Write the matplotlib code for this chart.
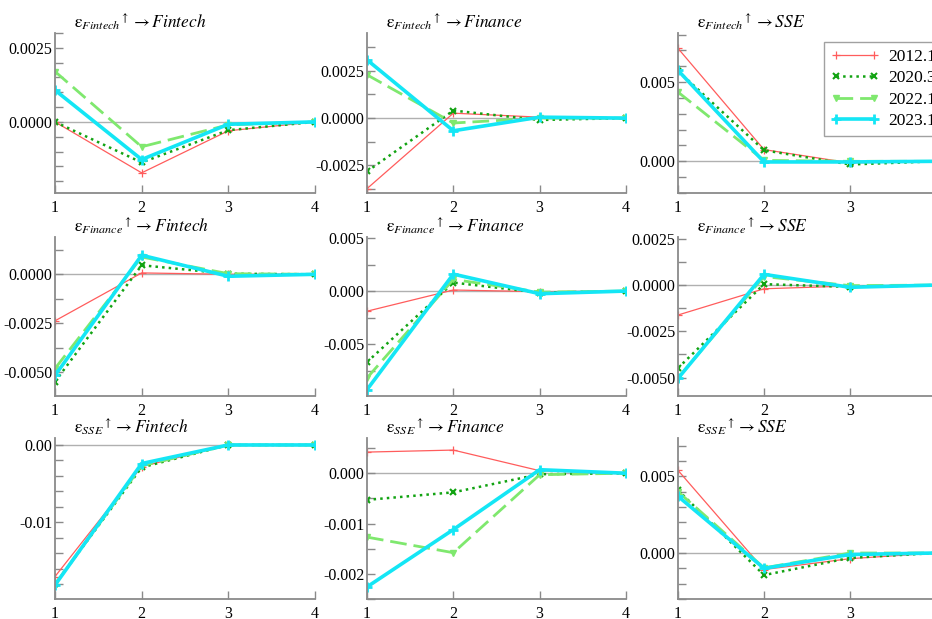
import matplotlib.pyplot as plt
from matplotlib.ticker import MultipleLocator, FormatStrFormatter

plt.rcParams['font.family'] = ['Liberation Serif', 'DejaVu Serif']
plt.rcParams['mathtext.fontset'] = 'stix'
plt.rcParams['axes.unicode_minus'] = False

horizons = [1, 2, 3, 4]
periods = ['2012.11', '2020.3', '2022.1', '2023.10']
shocks = ['Fintech', 'Finance', 'SSE']
responses = ['Fintech', 'Finance', 'SSE']

# impulse responses, one list per period (2012.11, 2020.3, 2022.1, 2023.10)
fintech_fintech = [[0.0, -0.00172, -0.00030, 0.0],
                   [0.0, -0.00137, -0.00028, 0.0],
                   [0.00170, -0.00084, -0.00010, 0.0],
                   [0.00107, -0.00127, -0.00008, 0.0]]
fintech_finance = [[-0.00373, 0.00026, 0.00005, 0.0],
                   [-0.00282, 0.00040, -0.00010, 0.0],
                   [0.00229, -0.00026, 0.0, 0.0],
                   [0.00308, -0.00067, 0.00005, 0.0]]
fintech_sse = [[0.00713, 0.00074, -0.00010, 0.0],
               [0.00570, 0.00070, -0.00020, 0.0],
               [0.00437, 0.00006, 0.0, 0.0],
               [0.00574, -0.00004, -0.00004, 0.0]]
finance_fintech = [[-0.00237, 0.00007, 0.0, 0.0],
                   [-0.00547, 0.00046, 0.00003, 0.0],
                   [-0.00480, 0.00088, 0.00003, 0.0],
                   [-0.00515, 0.00097, -0.00010, 0.0]]
finance_finance = [[-0.00190, 0.00010, -0.00006, 0.0],
                   [-0.00670, 0.00080, -0.00015, 0.0],
                   [-0.00820, 0.00110, -0.00010, 0.0],
                   [-0.00930, 0.00160, -0.00025, 0.0]]
finance_sse = [[-0.00162, -0.00020, -0.00005, 0.0],
               [-0.00449, 0.00005, -0.00010, 0.0],
               [-0.00502, 0.00046, -0.00003, 0.0],
               [-0.00505, 0.00058, -0.00012, 0.0]]
sse_fintech = [[-0.0170, -0.0028, 0.0, 0.0],
               [-0.0180, -0.0029, 0.0, 0.0],
               [-0.0180, -0.0027, 0.0, 0.0],
               [-0.0181, -0.0024, 0.0, 0.0]]
sse_finance = [[0.00042, 0.00046, 0.00005, 0.0],
               [-0.00053, -0.00038, -0.00002, 0.0],
               [-0.00127, -0.00158, -0.00003, 0.0],
               [-0.00226, -0.00112, 0.00007, 0.0]]
sse_sse = [[0.00539, -0.00108, -0.00037, 0.0],
           [0.00410, -0.00144, -0.00032, 0.0],
           [0.00400, -0.00097, 0.0, 0.0],
           [0.00370, -0.00100, -0.00010, 0.0]]

panels = [[fintech_fintech, fintech_finance, fintech_sse],
          [finance_fintech, finance_finance, finance_sse],
          [sse_fintech, sse_finance, sse_sse]]

# y range, major step, minor step, label format
axis_setup = [[((-0.0024, 0.0030), 0.0025, 0.0005, '%.4f'),
               ((-0.00396, 0.0045), 0.0025, 0.00125, '%.4f'),
               ((-0.0020, 0.0081), 0.005, 0.001, '%.3f')],
              [((-0.0062, 0.0019), 0.0025, 0.00125, '%.4f'),
               ((-0.0099, 0.0051), 0.005, 0.0025, '%.3f'),
               ((-0.0060, 0.0026), 0.0025, 0.00125, '%.4f')],
              [((-0.0199, 0.0009), 0.01, 0.002, '%.2f'),
               ((-0.0025, 0.0007), 0.001, 0.0005, '%.3f'),
               ((-0.0030, 0.0075), 0.005, 0.001, '%.3f')]]

styles = [dict(color='#ff5c5c', ls='-', lw=0.9, marker='+', ms=6, mew=0.9),
          dict(color='#12a312', ls=':', lw=1.8, marker='x', ms=5, mew=1.5),
          dict(color='#7fe86e', ls=(0, (6, 2.5)), lw=2.0, marker='v', ms=5),
          dict(color='#14e6f5', ls='-', lw=2.6, marker='+', ms=7, mew=2)]

W, H = 932, 619
fig = plt.figure(figsize=(W / 100, H / 100), dpi=100)

col_left = [55, 367, 678]
col_width = [260, 259, 258]
row_bottom = [193, 396, 599]
row_height = [160, 159, 161]

gray = '#8a8a8a'
handles = []
for r in range(3):
    for c in range(3):
        ax = fig.add_axes([col_left[c] / W, 1 - row_bottom[r] / H,
                           col_width[c] / W, row_height[r] / H])
        ax.axhline(0, color='#b0b0b0', lw=1.0, zorder=0)
        for k, series in enumerate(panels[r][c]):
            line, = ax.plot(horizons, series, label=periods[k], **styles[k])
            if r == 0 and c == 0:
                handles.append(line)

        ylim, major, minor, fmt = axis_setup[r][c]
        ax.set_xlim(1, 4)
        ax.set_ylim(*ylim)
        ax.set_xticks(horizons)
        ax.yaxis.set_major_locator(MultipleLocator(major))
        ax.yaxis.set_minor_locator(MultipleLocator(minor))
        ax.yaxis.set_major_formatter(FormatStrFormatter(fmt))

        for side in ['top', 'right']:
            ax.spines[side].set_visible(False)
        for side in ['left', 'bottom']:
            ax.spines[side].set_color(gray)
            ax.spines[side].set_linewidth(1.3)
        ax.tick_params(axis='both', which='both', direction='in', length=6,
                       width=1, color=gray, labelsize=11.5)
        ax.tick_params(axis='y', pad=2)
        ax.tick_params(axis='x', pad=5)

        title = (r'$\mathrm{\varepsilon}_{%s}{}^{\uparrow}\rightarrow %s$'
                 % (shocks[r], responses[c]))
        ax.text(0.075, 1.03, title, transform=ax.transAxes, ha='left',
                va='baseline', fontsize=12.5)

leg = fig.legend(handles=handles, labels=periods, loc='upper left',
                 bbox_to_anchor=(824 / W, 1 - 42 / H), fontsize=12.5,
                 frameon=True, fancybox=False, handlelength=2.8,
                 labelspacing=0.3, borderpad=0.4, handletextpad=0.5,
                 numpoints=2, borderaxespad=0)
leg.get_frame().set_edgecolor(gray)
leg.get_frame().set_linewidth(1.0)

fig.savefig('out.png', dpi=100)
